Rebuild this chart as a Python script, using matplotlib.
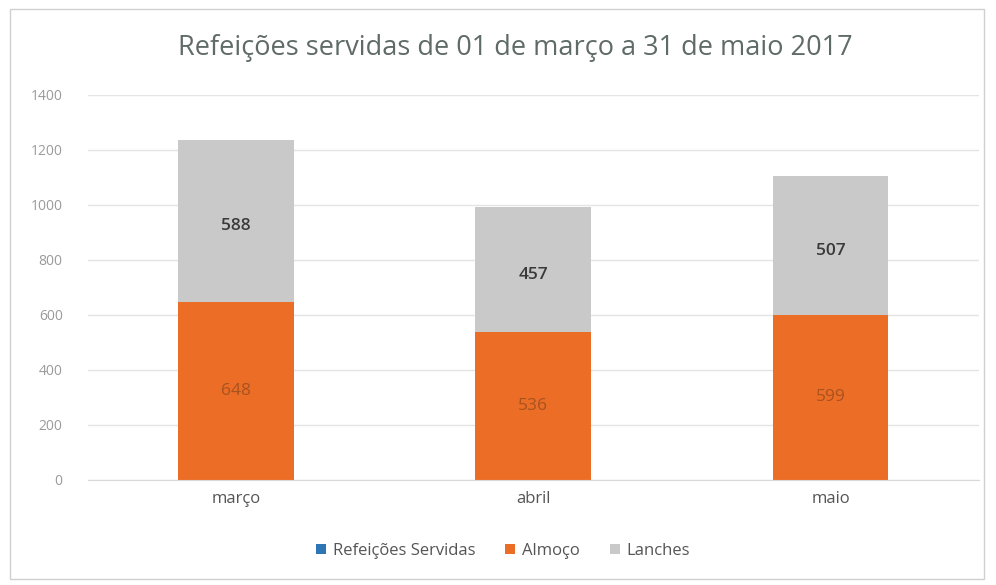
import matplotlib.pyplot as plt
from matplotlib.patches import Rectangle

plt.rcParams['font.family'] = ['Open Sans', 'DejaVu Sans']

meses = ["março", "abril", "maio"]
almoco = [648, 536, 599]
lanches = [588, 457, 507]
refeicoes = [0, 0, 0]
yticks = [0, 200, 400, 600, 800, 1000, 1200, 1400]

cor_ref = "#2e75b6"
cor_alm = "#ec6e26"
cor_lan = "#c9c9c9"

fig = plt.figure(figsize=(9.96, 5.85), dpi=100)
ax = fig.add_axes([0.088, 0.18, 0.895, 0.658])

x = range(len(meses))
w = 0.39
ax.bar(x, refeicoes, w, color=cor_ref, label="Refeições Servidas")
ax.bar(x, almoco, w, color=cor_alm, label="Almoço")
ax.bar(x, lanches, w, bottom=almoco, color=cor_lan, label="Lanches")

for i in x:
    ax.text(i, almoco[i] / 2, str(almoco[i]), ha="center", va="center",
            fontsize=12.5, color="#a8521f")
    ax.text(i, almoco[i] + lanches[i] / 2 - 20, str(lanches[i]), ha="center", va="center",
            fontsize=12.5, color="#3a3a3a", fontweight="semibold")

ax.set_xlim(-0.5, 2.5)
ax.set_ylim(0, 1400)
ax.set_yticks(yticks)
ax.set_xticks(list(x))
ax.set_xticklabels(meses)
ax.tick_params(axis="both", length=0, colors="#9a9a9a", labelsize=10)
ax.tick_params(axis="x", colors="#555555", pad=8, labelsize=12)
ax.tick_params(axis="y", pad=18)
ax.grid(axis="y", color="#e4e4e4", linewidth=1)
ax.set_axisbelow(True)
for s in ["top", "right", "left"]:
    ax.spines[s].set_visible(False)
ax.spines["bottom"].set_color("#d9d9d9")

fig.text(0.517, 0.918, "Refeições servidas de 01 de março a 31 de maio 2017",
         ha="center", va="center", fontsize=19.5, color="#5f6b66")

leg = fig.legend(loc="center", bbox_to_anchor=(0.505, 0.058), ncol=3, frameon=False,
                 fontsize=12, handlelength=0.6, handleheight=0.6, columnspacing=1.8,
                 handletextpad=0.4)
for t in leg.get_texts():
    t.set_color("#555555")

fig.patches.append(Rectangle((0.01, 0.01), 0.978, 0.975, transform=fig.transFigure,
                             fill=False, edgecolor="#d0d0d0", linewidth=1))

fig.savefig("out.png", dpi=100, facecolor="white")
